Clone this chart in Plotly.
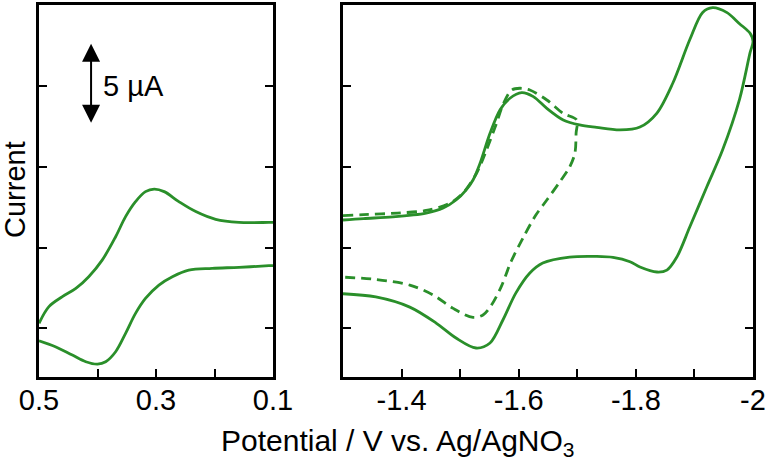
import plotly.graph_objects as go

# ---- data (potential in V, current in µA; one tick = 5 µA) ----
left_ox_x = [0.5, 0.483, 0.460, 0.437, 0.415, 0.392, 0.369, 0.352, 0.335, 0.318, 0.303, 0.286, 0.261, 0.232, 0.198, 0.158, 0.107, 0.1]
left_ox_i = [0.29, 1.33, 1.95, 2.46, 3.19, 4.22, 5.67, 6.92, 7.85, 8.47, 8.63, 8.47, 7.85, 7.23, 6.75, 6.56, 6.56, 6.56]
left_red_x = [0.1, 0.107, 0.158, 0.204, 0.244, 0.272, 0.295, 0.318, 0.335, 0.352, 0.369, 0.386, 0.400, 0.420, 0.443, 0.472, 0.5]
left_red_i = [3.88, 3.87, 3.77, 3.71, 3.60, 3.19, 2.67, 1.84, 0.91, -0.33, -1.47, -2.09, -2.24, -2.09, -1.68, -1.16, -0.79]

right_x = [-1.3, -1.335, -1.385, -1.442, -1.471, -1.493, -1.510, -1.522, -1.534, -1.551, -1.568, -1.585, -1.605,
           -1.625, -1.648, -1.676, -1.704, -1.733, -1.773, -1.807, -1.836, -1.863, -1.892, -1.914,
           -1.931, -1.955, -1.977, -1.995, -2.0,
           -1.995, -1.977, -1.948, -1.921, -1.892, -1.870, -1.853, -1.836, -1.807, -1.790, -1.761,
           -1.733, -1.687, -1.641, -1.619, -1.595, -1.573, -1.551, -1.527, -1.493, -1.459,
           -1.414, -1.356, -1.3]
right_i = [6.71, 6.80, 6.90, 7.14, 7.45, 7.95, 8.57, 9.19, 10.23, 12.09, 13.54, 14.27, 14.62,
           14.37, 13.64, 12.92, 12.61, 12.46, 12.30, 12.48, 13.35, 15.2, 17.9, 19.6,
           19.9, 19.6, 18.9, 18.3, 17.8,
           17.1, 14.2, 11.05, 8.76, 6.27, 4.41, 3.60, 3.48, 3.79, 4.12, 4.39,
           4.45, 4.41, 4.04, 3.42, 2.17, 0.50, -0.93, -1.24, -0.62, 0.31,
           1.30, 1.93, 2.13]

dash_x = [-1.3, -1.335, -1.393, -1.442, -1.483, -1.505, -1.528, -1.545, -1.562, -1.574, -1.588, -1.602,
          -1.619, -1.648, -1.676, -1.699,
          -1.698, -1.696, -1.687, -1.670, -1.648, -1.629, -1.607, -1.587, -1.570, -1.553, -1.539,
          -1.522, -1.488, -1.454, -1.414, -1.356, -1.3]
dash_i = [6.98, 7.04, 7.14, 7.30, 7.76, 8.39, 9.61, 11.06, 12.71, 13.95, 14.78, 14.89,
          14.78, 14.16, 13.33, 12.92,
          12.11, 10.87, 10.00, 9.07, 7.95, 7.00, 5.57, 4.13, 2.56, 1.40, 0.81,
          0.66, 1.22, 2.05, 2.67, 3.02, 3.16]

left_ticks = [0.5, 0.4, 0.3, 0.2, 0.1]
left_labels = ["0.5", " ", "0.3", " ", "0.1"]
right_ticks = [-1.3, -1.4, -1.5, -1.6, -1.7, -1.8, -1.9, -2.0]
right_labels = [" ", "-1.4", " ", "-1.6", " ", "-1.8", " ", "-2"]
y_ticks = [0, 5, 10, 15]

GREEN = "#2a8f2a"
FONT = "Liberation Sans, Arial, sans-serif"

fig = go.Figure()
line = dict(color=GREEN, width=2.8)
fig.add_trace(go.Scatter(x=left_ox_x, y=left_ox_i, mode="lines", line=dict(**line, shape="spline", smoothing=1.0), xaxis="x", yaxis="y"))
fig.add_trace(go.Scatter(x=left_red_x, y=left_red_i, mode="lines", line=dict(**line, shape="spline", smoothing=1.0), xaxis="x", yaxis="y"))
fig.add_trace(go.Scatter(x=dash_x, y=dash_i, mode="lines", line=dict(**line, dash="10px,6px", shape="spline", smoothing=0.9), xaxis="x2", yaxis="y2"))
fig.add_trace(go.Scatter(x=right_x, y=right_i, mode="lines", line=dict(**line, shape="spline", smoothing=0.9), xaxis="x2", yaxis="y2"))

W, H = 766, 461
ydom = [(H - 377) / H, (H - 5) / H]
yr = [-3.04, 20.06]

axcommon = dict(showgrid=False, zeroline=False, showline=True, linecolor="black", linewidth=3,
                ticks="inside", ticklen=8, tickwidth=2, tickcolor="black", automargin=False,
                tickfont=dict(family=FONT, size=29, color="black"))

fig.update_layout(
    width=W, height=H,
    margin=dict(l=0, r=0, t=0, b=0),
    paper_bgcolor="white", plot_bgcolor="white",
    showlegend=False,
    font=dict(family=FONT, color="black"),
    xaxis=dict(domain=[39 / W, 273 / W], range=[0.5, 0.1], tickmode="array", tickvals=left_ticks,
               ticktext=left_labels, mirror=True, anchor="y", ticklabelstandoff=-5, **axcommon),
    xaxis2=dict(domain=[343 / W, 753 / W], range=[-1.3, -2.0], tickmode="array", tickvals=right_ticks,
                ticktext=right_labels, mirror=True, anchor="y2", ticklabelstandoff=-5, **axcommon),
    yaxis=dict(domain=ydom, range=yr, tickmode="array", tickvals=y_ticks, showticklabels=False,
               mirror="ticks", anchor="x", **axcommon),
    yaxis2=dict(domain=ydom, range=yr, tickmode="array", tickvals=y_ticks, showticklabels=False,
                mirror="ticks", anchor="x2", **axcommon),
)

fig.add_annotation(x=15 / W, y=1 - 190 / H, xref="paper", yref="paper", text="Current", textangle=-90,
                   xanchor="center", yanchor="middle",
                   showarrow=False, font=dict(family=FONT, size=29, color="black"))
fig.add_annotation(x=398 / W, y=1 - 442 / H, xref="paper", yref="paper",
                   text="Potential / V vs. Ag/AgNO<sub>3</sub>", xanchor="center", yanchor="middle",
                   showarrow=False, font=dict(family=FONT, size=30, color="black"))
# 5 µA scale bar
fig.add_annotation(x=0.411, y=12.75, ax=0.411, ay=17.75, xref="x", yref="y", axref="x", ayref="y",
                   text="", showarrow=True, arrowhead=2, startarrowhead=2, arrowside="end+start",
                   arrowsize=1.8, arrowwidth=2, arrowcolor="black")
fig.add_annotation(x=0.394, y=15.0, xref="x", yref="y", text="5 µA", xanchor="left", yanchor="middle",
                   showarrow=False, font=dict(family=FONT, size=29, color="black"))

fig.write_html("out.html", config={"displayModeBar": False},
               post_script="document.body.style.margin='0';document.body.style.padding='0';")
